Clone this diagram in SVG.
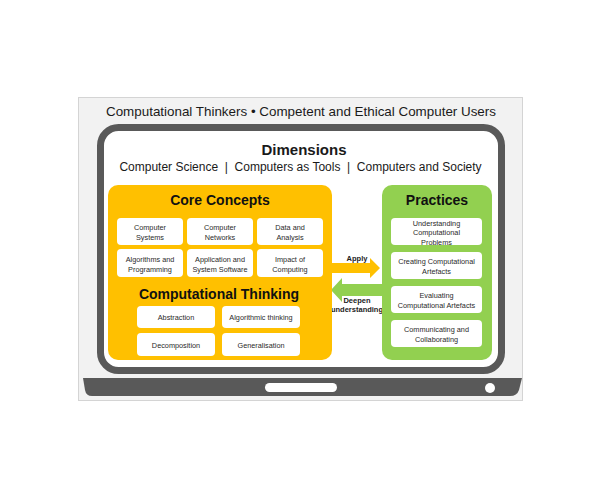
<svg xmlns="http://www.w3.org/2000/svg" width="600" height="500" viewBox="0 0 600 500">
<style>
  text { font-family: "Liberation Sans", Arial, sans-serif; fill: #1a1a1a; text-anchor: middle; }
  .h1 { font-size: 13.4px; }
  .dim { font-size: 15px; font-weight: bold; }
  .sub { font-size: 12px; white-space: pre; }
  .head { font-size: 14px; font-weight: bold; fill: #111; }
  .sm { font-size: 7.3px; fill: #2a2a2a; }
  .lbl { font-size: 7.5px; font-weight: bold; fill: #222; }
  .box { fill: #ffffff; }
</style>
<rect width="600" height="500" fill="#ffffff"/>
<g id="background">
  <rect x="78.5" y="97.5" width="444" height="303" fill="#f2f2f2" stroke="#d4d4d4" stroke-width="1"/>
  <text class="h1" x="301" y="116">Computational Thinkers • Competent and Ethical Computer Users</text>
</g>
<g id="laptop">
  <rect x="100.5" y="127.5" width="401" height="243" rx="18" fill="#ffffff" stroke="#595959" stroke-width="7"/>
  <path d="M83,378 L522,378 L519,390 Q517,396 510,396 L92,396 Q86,396 85,390 Z" fill="#595959"/>
  <rect x="265" y="383" width="72" height="9" rx="4.5" fill="#ffffff"/>
  <circle cx="490" cy="388" r="5" fill="#ffffff"/>
</g>
<g id="dimensions">
  <text class="dim" x="304" y="155">Dimensions</text>
  <text class="sub" x="300.5" y="171">Computer Science &#160;|&#160; Computers as Tools &#160;|&#160; Computers and Society</text>
</g>
<g id="connectors">
  <path d="M330,263 L370,263 L370,258 L380,268 L370,278 L370,273 L330,273 Z" fill="#FFC000"/>
  <path d="M384,284 L342,284 L342,278 L331,290 L342,302 L342,296 L384,296 Z" fill="#92D050"/>
  <text class="lbl" x="357" y="261">Apply</text>
  <text class="lbl" x="357" y="303">Deepen</text>
  <text class="lbl" x="357" y="312">understanding</text>
</g>
<g id="core-concepts">
  <rect x="108" y="185" width="224" height="175" rx="10" fill="#FFC000"/>
  <text class="head" x="220" y="205">Core Concepts</text>
  <rect class="box" x="117" y="218" width="66" height="27" rx="4"/>
  <text class="sm" x="150" y="230">Computer</text><text class="sm" x="150" y="240">Systems</text>
  <rect class="box" x="187" y="218" width="66" height="27" rx="4"/>
  <text class="sm" x="220" y="230">Computer</text><text class="sm" x="220" y="240">Networks</text>
  <rect class="box" x="257" y="218" width="66" height="27" rx="4"/>
  <text class="sm" x="290" y="230">Data and</text><text class="sm" x="290" y="240">Analysis</text>
  <rect class="box" x="117" y="249" width="66" height="28" rx="4"/>
  <text class="sm" x="150" y="262">Algorithms and</text><text class="sm" x="150" y="272">Programming</text>
  <rect class="box" x="187" y="249" width="66" height="28" rx="4"/>
  <text class="sm" x="220" y="262">Application and</text><text class="sm" x="220" y="272">System Software</text>
  <rect class="box" x="257" y="249" width="66" height="28" rx="4"/>
  <text class="sm" x="290" y="262">Impact of</text><text class="sm" x="290" y="272">Computing</text>
</g>
<g id="computational-thinking">
  <text class="head" x="219" y="299">Computational Thinking</text>
  <rect class="box" x="137" y="306" width="78" height="22" rx="4"/>
  <text class="sm" x="176" y="320">Abstraction</text>
  <rect class="box" x="222" y="306" width="78" height="22" rx="4"/>
  <text class="sm" x="261" y="320">Algorithmic thinking</text>
  <rect class="box" x="137" y="333" width="78" height="23" rx="4"/>
  <text class="sm" x="176" y="348">Decomposition</text>
  <rect class="box" x="222" y="333" width="78" height="23" rx="4"/>
  <text class="sm" x="261" y="348">Generalisation</text>
</g>
<g id="practices">
  <rect x="382" y="185" width="110" height="175" rx="10" fill="#92D050"/>
  <text class="head" x="437" y="205">Practices</text>
  <rect class="box" x="391" y="218" width="91" height="27" rx="4"/>
  <text class="sm" x="436.5" y="226">Understanding</text><text class="sm" x="436.5" y="235">Computational</text><text class="sm" x="436.5" y="245">Problems</text>
  <rect class="box" x="391" y="252" width="91" height="27" rx="4"/>
  <text class="sm" x="436.5" y="264">Creating Computational</text><text class="sm" x="436.5" y="274">Artefacts</text>
  <rect class="box" x="391" y="286" width="91" height="27" rx="4"/>
  <text class="sm" x="436.5" y="298">Evaluating</text><text class="sm" x="436.5" y="308">Computational Artefacts</text>
  <rect class="box" x="391" y="320" width="91" height="27" rx="4"/>
  <text class="sm" x="436.5" y="332">Communicating and</text><text class="sm" x="436.5" y="342">Collaborating</text>
</g>
</svg>
